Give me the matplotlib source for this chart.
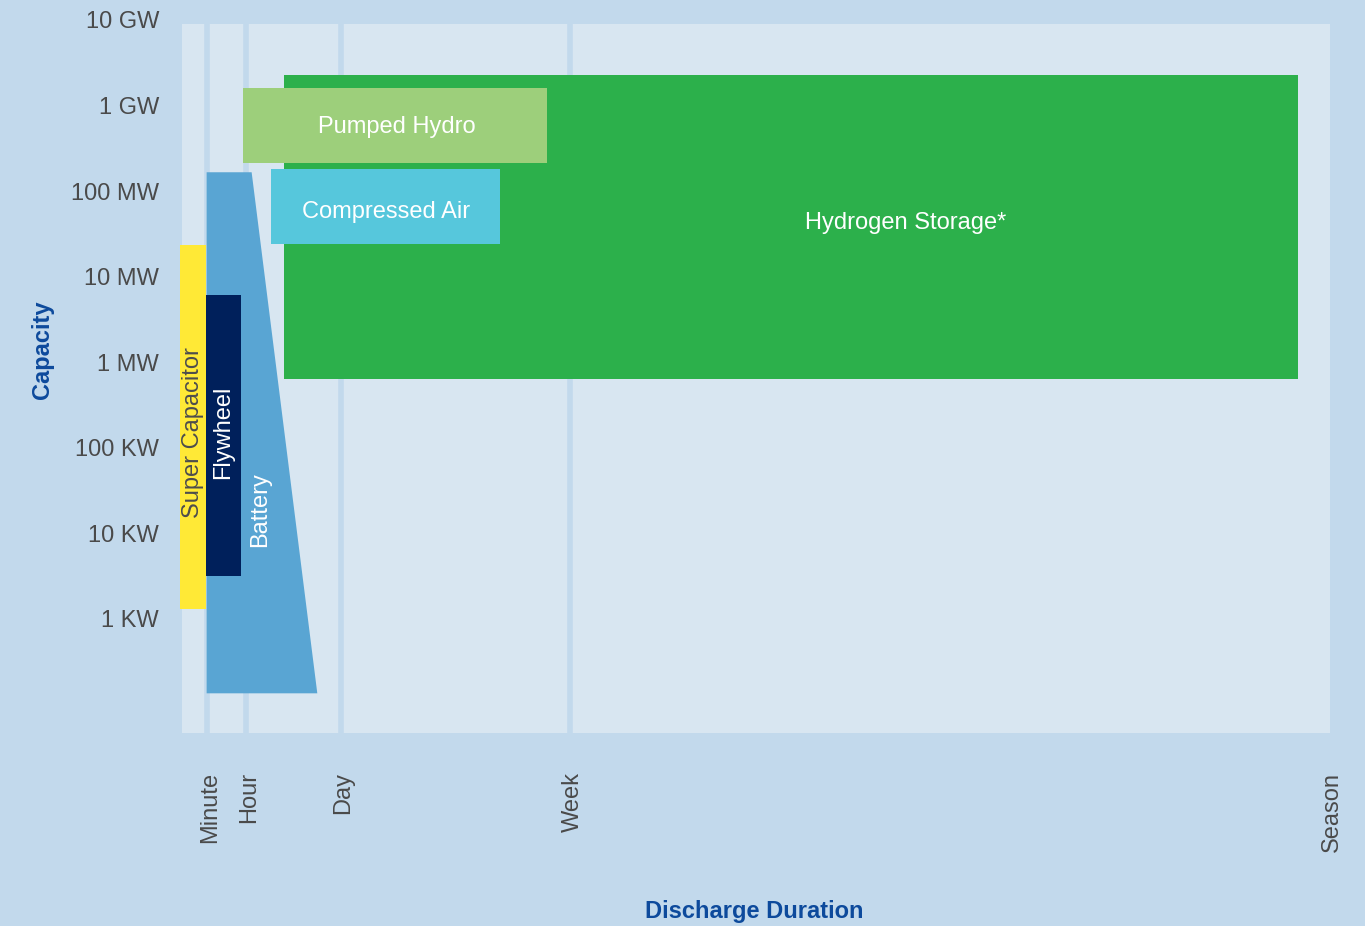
import numpy as np
import matplotlib.pyplot as plt
from matplotlib.patches import Polygon
from matplotlib.transforms import blended_transform_factory, ScaledTranslation

plt.rcParams['font.family'] = ['Liberation Sans', 'DejaVu Sans']

# Duration scale: arbitrary position units, 0..100 across the axis
duration_labels = ['Minute', 'Hour', 'Day', 'Week', 'Season']
duration_pos = [2.15, 5.56, 13.82, 33.8, 99.9]

# Capacity scale (W)
capacity_labels = ['1 KW', '10 KW', '100 KW', '1 MW', '10 MW', '100 MW', '1 GW', '10 GW']
capacity_values = [1e3, 1e4, 1e5, 1e6, 1e7, 1e8, 1e9, 1e10]

# Rectangular technologies: duration from/to, capacity from/to (W)
techs = ['Hydrogen Storage*', 'Pumped Hydro', 'Compressed Air', 'Super Capacitor', 'Flywheel']
dur_lo = [8.89, 5.31, 7.75, -0.17, 2.13]
dur_hi = [97.21, 31.79, 27.70, 2.12, 5.14]
cap_lo = [10**5.809, 10**8.326, 10**7.381, 10**3.12, 10**3.50]
cap_hi = [10**9.356, 10**9.204, 10**8.256, 10**7.37, 10**6.79]

# Battery: tapering band (duration at top and bottom edges)
battery_dur_top = [2.15, 6.07]
battery_dur_bottom = [2.15, 11.79]
battery_cap = [10**2.13, 10**8.22]

colors = {
    'Super Capacitor': '#ffe936',
    'Flywheel': '#00205b',
    'Battery': '#59a5d3',
    'Pumped Hydro': '#9dcf7b',
    'Compressed Air': '#56c7dc',
    'Hydrogen Storage*': '#2cb04b',
}
text_colors = {'Super Capacitor': '#4d4d4d'}
# label placement (x, y, rotation)
label_pos = {
    'Super Capacitor': (1.0, 10**5.18, 90),
    'Flywheel': (3.55, 10**5.18, 90),
    'Battery': (6.8, 10**4.28, 90),
    'Pumped Hydro': (18.7, 10**8.75, 0),
    'Compressed Air': (17.8, 10**7.75, 0),
    'Hydrogen Storage*': (63.0, 10**7.63, 0),
}

fig_bg = '#c2d9ec'
ax_bg = '#d8e6f1'
tick_color = '#4a4a4a'
label_color = '#0d4a9c'

fig = plt.figure(figsize=(13.65, 9.26), dpi=100, facecolor=fig_bg)
ax = fig.add_axes([0.1333, 0.2084, 0.841, 0.7657])
ax.set_facecolor(ax_bg)
ax.set_yscale('log')
ax.set_xlim(0, 100)
ax.set_ylim(10**1.666, 10**9.953)

for x in duration_pos[:-1]:
    ax.axvline(x, color=fig_bg, lw=4.0, zorder=1)

# battery
poly = Polygon([(battery_dur_top[0], battery_cap[1]), (battery_dur_top[1], battery_cap[1]),
                (battery_dur_bottom[1], battery_cap[0]), (battery_dur_bottom[0], battery_cap[0])],
               closed=True, facecolor=colors['Battery'], edgecolor='none', zorder=2)
ax.add_patch(poly)

for name, x0, x1, y0, y1 in zip(techs, dur_lo, dur_hi, cap_lo, cap_hi):
    ax.fill_between([x0, x1], y0, y1, color=colors[name], lw=0, zorder=3, clip_on=False)

for name, (x, y, rot) in label_pos.items():
    ax.text(x, y, name, rotation=rot, ha='center', va='center', fontsize=17,
            color=text_colors.get(name, 'white'), zorder=5)

for s in ax.spines.values():
    s.set_visible(False)

ax.set_xticks(duration_pos)
ax.set_xticklabels(duration_labels, rotation=90, fontsize=17, color=tick_color)
ax.tick_params(axis='x', length=0, pad=28)
shift = ScaledTranslation(3 / 100, 0, fig.dpi_scale_trans)
for lbl in ax.get_xticklabels():
    lbl.set_transform(lbl.get_transform() + shift)
ax.set_yticks([])
ax.minorticks_off()

trans = blended_transform_factory(ax.transAxes, ax.transData) + \
    ScaledTranslation(0, -2.5 / 100, fig.dpi_scale_trans)
for lab, v in zip(capacity_labels, capacity_values):
    ax.text(-0.02, v, lab, transform=trans, ha='right', va='center', fontsize=17,
            color=tick_color, clip_on=False)

fig.text(0.0308, 0.622, 'Capacity', rotation=90, ha='center', va='center',
         fontsize=17, fontweight='bold', color=label_color)
fig.text(0.5524, 0.0152, 'Discharge Duration', ha='center', va='center',
         fontsize=17, fontweight='bold', color=label_color)

fig.savefig('out.png', dpi=100, facecolor=fig_bg)
